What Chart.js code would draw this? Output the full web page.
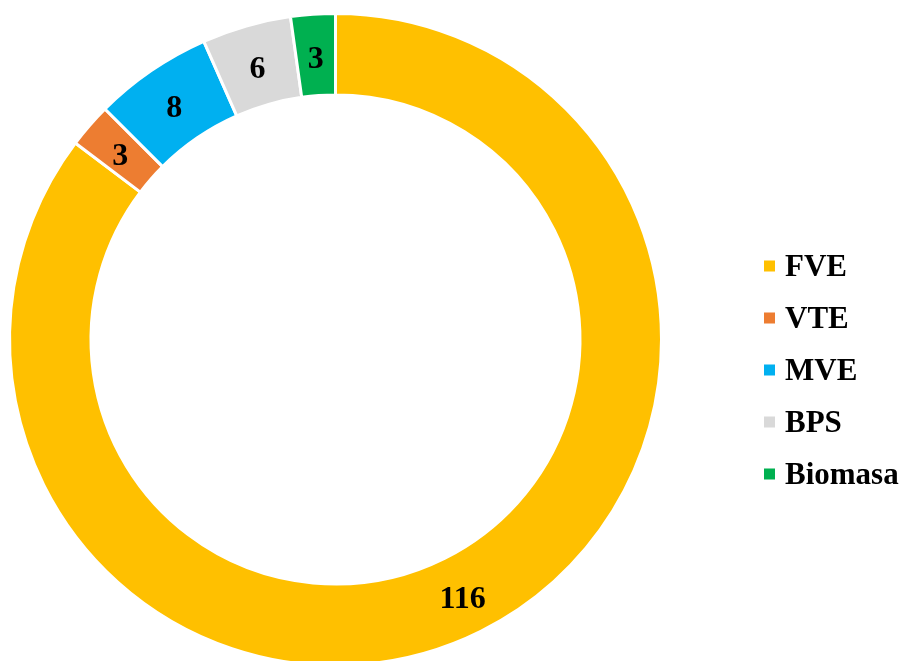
<!DOCTYPE html>
<html>
<head>
<meta charset="utf-8">
<script src="https://cdn.jsdelivr.net/npm/chart.js@4.4.0/dist/chart.umd.min.js"></script>
<style>
  html, body { margin: 0; padding: 0; background: #fff; overflow: hidden; }
  #wrap { position: absolute; left: 0; top: 0; width: 905px; height: 680px; }
</style>
</head>
<body>
<div id="wrap"><canvas id="donut"></canvas></div>
<script>
// data
const labels = ["FVE", "VTE", "MVE", "BPS", "Biomasa"];
const values = [116, 3, 8, 6, 3];
const colors = ["#FFC000", "#ED7D31", "#00B0F0", "#D9D9D9", "#00B050"];

const serif = '"Liberation Serif", "Times New Roman", serif';

// numbers written in the middle of each ring segment
const sliceLabels = {
    id: "sliceLabels",
    afterDatasetsDraw(chart) {
        const ctx = chart.ctx;
        const meta = chart.getDatasetMeta(0);
        ctx.save();
        ctx.font = "bold 32px " + serif;
        ctx.fillStyle = "#000";
        ctx.textAlign = "center";
        ctx.textBaseline = "alphabetic";
        meta.data.forEach((arc, i) => {
            let p = arc.tooltipPosition();
            ctx.fillText(String(chart.data.datasets[0].data[i]), p.x, p.y + 13);
        });
        ctx.restore();
    }
};

// legend on the right: small squares + bold serif names
const sideLegend = {
    id: "sideLegend",
    afterDraw(chart) {
        const ctx = chart.ctx;
        const ds = chart.data.datasets[0];
        ctx.save();
        ctx.font = "bold 31px " + serif;
        ctx.textAlign = "left";
        ctx.textBaseline = "alphabetic";
        chart.data.labels.forEach((name, i) => {
            let cy = 266 + i * 52;
            ctx.fillStyle = ds.backgroundColor[i];
            ctx.fillRect(764, cy - 5.5, 11, 11);
            ctx.fillStyle = "#000";
            ctx.fillText(name, 785, cy + 10);
        });
        ctx.restore();
    }
};

new Chart(document.getElementById("donut"), {
    type: "doughnut",
    data: {
        labels: labels,
        datasets: [{
            data: values,
            backgroundColor: colors,
            borderColor: "#fff",
            borderWidth: 3
        }]
    },
    options: {
        responsive: true,
        maintainAspectRatio: false,
        animation: false,
        cutout: "75%",
        layout: { padding: { left: 8, right: 242, top: 12, bottom: 13 } },
        plugins: {
            legend: { display: false },
            tooltip: { enabled: false }
        }
    },
    plugins: [sliceLabels, sideLegend]
});
</script>
</body>
</html>
